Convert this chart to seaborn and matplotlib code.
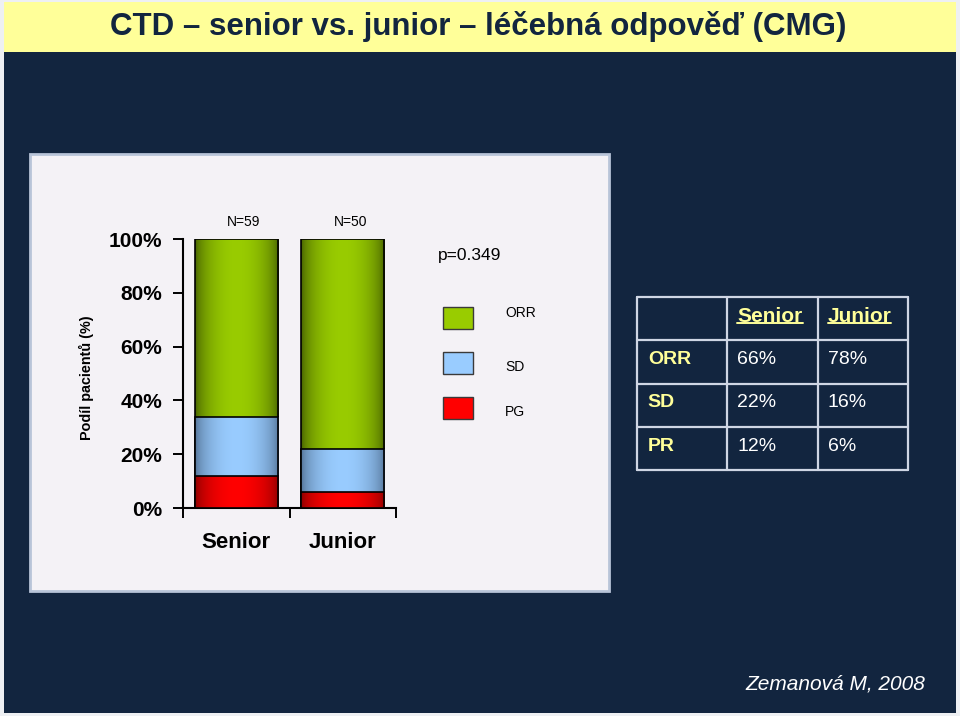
import numpy as np
import pandas as pd
import matplotlib
matplotlib.use("Agg")
import matplotlib.pyplot as plt
import seaborn as sns
from matplotlib.patches import Rectangle
from matplotlib.lines import Line2D

# ---------------- data ----------------
groups = ["Senior", "Junior"]
n_labels = ["N=59", "N=50"]
orr = [66, 78]
sd = [22, 16]
pr = [12, 6]
yticks = [0, 20, 40, 60, 80, 100]
legend_labels = ["ORR", "SD", "PG"]
table_cols = ["Senior", "Junior"]
table_rows = ["ORR", "SD", "PR"]
title = "CTD – senior vs. junior – léčebná odpověď (CMG)"
ylabel = "Podíl pacientů (%)"
pvalue = "p=0.349"
footer = "Zemanová M, 2008"

# ---------------- style ----------------
sns.set_theme(style="white")
plt.rcParams["font.family"] = ["Liberation Sans", "DejaVu Sans"]

W, H = 960, 716
BG = "#12253f"
YELLOW = "#ffff99"
fig = plt.figure(figsize=(W / 100, H / 100), dpi=100)
fig.patch.set_facecolor("#eef0f3")


def fx(px):
    return px / W


def fy(py):
    return 1 - py / H


def frect(x0, y0, x1, y1, **kw):
    r = Rectangle((fx(x0), fy(y1)), fx(x1) - fx(x0), fy(y0) - fy(y1),
                  transform=fig.transFigure, **kw)
    fig.add_artist(r)
    return r


# slide background, title band
frect(4, 52, 956, 713, facecolor=BG, edgecolor="none", zorder=-2)
frect(4, 2, 956, 52, facecolor=YELLOW, edgecolor="none", zorder=-2)
fig.text(0.5 - 1.5 / W, fy(27), title, ha="center", va="center", fontsize=22.5,
         fontweight="bold", color="#12253f")

# chart panel
frect(30, 154, 609, 591, facecolor="#f4f2f6", edgecolor="#b8c4d8", lw=2, zorder=-1)

# ---------------- bar chart ----------------
ax = fig.add_axes([fx(183), fy(508), fx(396) - fx(183), fy(239) - fy(508)])
ax.set_facecolor("none")

df = pd.DataFrame({
    "group": groups,
    "total": [a + b + c for a, b, c in zip(orr, sd, pr)],
    "sd_pr": [b + c for b, c in zip(sd, pr)],
    "pr": pr,
})

layers = [
    ("total", "#99cc00", "#3a5200"),
    ("sd_pr", "#99ccff", "#4a6788"),
    ("pr", "#ff0000", "#7a0000"),
]
for col, c_light, _ in layers:
    sns.barplot(data=df, x="group", y=col, color=c_light, saturation=1,
                width=0.78, edgecolor="black", linewidth=1.2, ax=ax)

# gradient shading of bars (dark edges, bright middle)
t = np.linspace(0, 1, 256)
w = np.clip(np.sin(np.pi * t), 0, 1) ** 0.5
patches = list(ax.patches)
for li, (col, c_light, c_dark) in enumerate(layers):
    cl = np.array(matplotlib.colors.to_rgb(c_light))
    cd = np.array(matplotlib.colors.to_rgb(c_dark))
    img = (cd[None, :] + (cl - cd)[None, :] * w[:, None])[None, :, :]
    for p in patches[li * 2: li * 2 + 2]:
        bb = p.get_bbox()
        z = 2 + li
        p.set_zorder(z + 0.5)
        p.set_facecolor("none")
        im = ax.imshow(img, extent=[bb.x0, bb.x1, bb.y0, bb.y1], aspect="auto",
                       interpolation="bilinear", zorder=z)
        im.set_clip_path(p)

ax.set_xlim(-0.5, 1.5)
ax.set_ylim(0, 100)
ax.set_xlabel("")
ax.set_ylabel("")
ax.set_yticks(yticks)
ax.set_yticklabels([f"{v}%" for v in yticks], fontsize=15, fontweight="bold")
ax.set_xticks([0, 1])
ax.set_xticklabels(groups, fontsize=16, fontweight="bold")
ax.set_xticks([-0.5, 0.5, 1.5], minor=True)
ax.tick_params(axis="x", which="major", length=0, pad=17, colors="black")
ax.tick_params(axis="x", which="minor", bottom=True, length=7, width=1.4,
               direction="out", color="black")
ax.tick_params(axis="y", left=True, length=7, width=1.4, direction="out",
               pad=8, colors="black")
for s in ["top", "right"]:
    ax.spines[s].set_visible(False)
for s in ["left", "bottom"]:
    ax.spines[s].set_color("black")
    ax.spines[s].set_linewidth(1.5)

for i, n in enumerate(n_labels):
    ax.text(i + 0.07, 106.3, n, ha="center", va="center", fontsize=10,
            color="black", clip_on=False)

fig.text(fx(86), fy(378), ylabel, rotation=90, ha="center", va="center",
         fontsize=10.4, fontweight="bold", color="black")

# p value and legend
fig.text(fx(438), fy(255), pvalue, ha="left", va="center", fontsize=12.5,
         color="black")
leg_boxes = [(307, 329), (352, 374), (397, 419)]
leg_text_y = [313, 367, 412]
for (y0, y1), ty, lab, (_, c_light, _) in zip(leg_boxes, leg_text_y,
                                              legend_labels, layers):
    frect(443, y0, 473, y1, facecolor=c_light, edgecolor="#3a3a3a", lw=1,
          zorder=2)
    fig.text(fx(505), fy(ty), lab, ha="left", va="center", fontsize=10,
             color="black")

# ---------------- table ----------------
axt = fig.add_axes([fx(637), fy(470), fx(908) - fx(637), fy(297) - fy(470)])
axt.set_xlim(0, 3)
axt.set_ylim(4, 0)
axt.axis("off")
lc = "#cfd6e4"
for xv in range(4):
    axt.plot([xv, xv], [0, 4], color=lc, lw=1.6, clip_on=False)
for yv in range(5):
    axt.plot([0, 3], [yv, yv], color=lc, lw=1.6, clip_on=False)

headers = []
for j, c in enumerate(table_cols):
    headers.append(axt.text(j + 1.11, 0.45, c, ha="left", va="center",
                            fontsize=15, fontweight="bold", color=YELLOW))
values = [orr, sd, pr]
for i, r in enumerate(table_rows):
    axt.text(0.12, i + 1.45, r, ha="left", va="center", fontsize=14,
             fontweight="bold", color=YELLOW)
    for j in range(len(table_cols)):
        axt.text(j + 1.11, i + 1.45, f"{values[i][j]}%", ha="left",
                 va="center", fontsize=14, color="white")

fig.text(fx(925), fy(684), footer, ha="right", va="center", fontsize=15,
         style="italic", color="white")

# underline headers
fig.canvas.draw()
renderer = fig.canvas.get_renderer()
for h in headers:
    bb = h.get_window_extent(renderer)
    yline = bb.y0 + 2.5
    fig.add_artist(Line2D([bb.x0 / W, bb.x1 / W], [yline / H, yline / H],
                          transform=fig.transFigure, color=YELLOW, lw=1.4))

fig.savefig("out.png", dpi=100, facecolor=fig.get_facecolor())
